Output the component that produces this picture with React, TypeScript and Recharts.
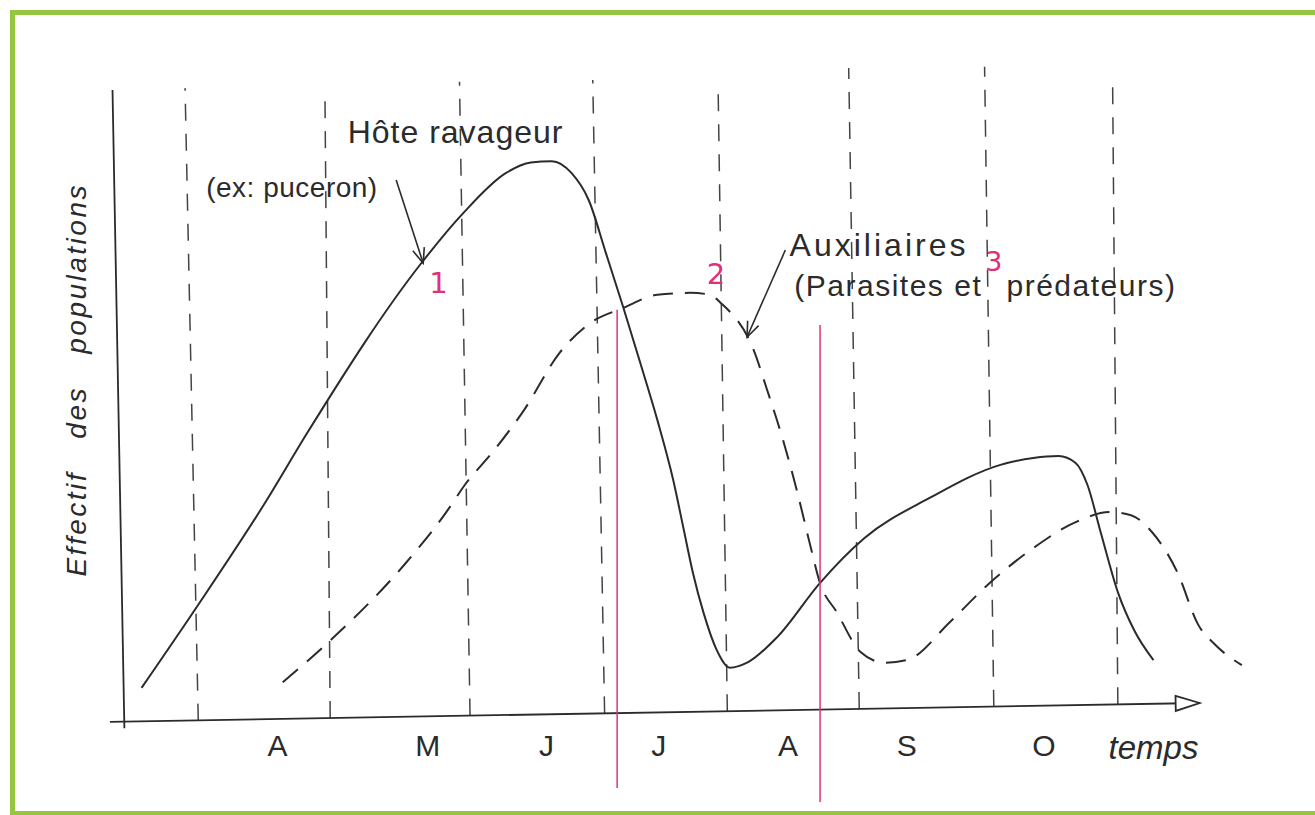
import React from 'react'
import { LineChart, Line, XAxis, YAxis, ReferenceLine, ReferenceDot } from 'recharts'

// temps en mois (1 = début avril), effectif en unités arbitraires (0-100)
const hoteTemps = [0.63, 1.06, 1.57, 1.89, 2.75, 3.07, 3.39, 3.58, 3.74, 3.89, 4.02, 4.15, 4.28, 4.41, 4.54, 4.66, 4.74, 4.81, 4.89, 4.99, 5.09, 5.22, 5.45, 5.77, 6.11, 6.6, 7.14, 7.39, 7.58, 7.71, 7.8, 7.9, 8.03, 8.16, 8.3]
const hoteEffectif = [5.1, 18.3, 34.6, 45.7, 72.5, 80.5, 86.8, 88.5, 88.7, 86.8, 82.5, 74.1, 65.6, 56.7, 47.6, 38.1, 30.2, 23.3, 17.0, 11.1, 8.3, 9.1, 13.2, 21.7, 28.9, 35.2, 40.5, 41.6, 41.9, 40.8, 37.3, 29.8, 20.3, 14.0, 9.5]

const auxTemps = [1.7, 2.08, 2.62, 2.94, 3.08, 3.29, 3.52, 3.8, 4.03, 4.28, 4.54, 4.79, 4.94, 5.02, 5.27, 5.37, 5.49, 5.6, 5.7, 5.77, 5.9, 6.08, 6.26, 6.43, 6.76, 7.04, 7.39, 7.71, 7.97, 8.13, 8.29, 8.48, 8.64, 8.77, 8.97]
const auxEffectif = [6.0, 13.0, 24.6, 33.0, 37.3, 42.5, 48.9, 58.3, 63.0, 65.4, 67.5, 67.8, 67.5, 66.2, 58.7, 52.5, 44.6, 36.2, 27.6, 21.9, 17.1, 10.8, 9.1, 9.5, 15.6, 21.4, 27.3, 31.4, 33.0, 32.5, 29.8, 23.5, 15.1, 11.9, 8.7]

const moisTicks = [1.66, 2.8, 3.7, 4.55, 5.53, 6.43, 7.47]
const moisLabels = ['A', 'M', 'J', 'J', 'A', 'S', 'O']

// limites de mois (traits verticaux dessinés à la main, un peu penchés)
const limitesHautX = [0.96, 2.02, 3.04, 4.05, 5.0, 5.99, 7.02, 7.99]
const limitesHautY = [100.3, 100, 101.3, 101.6, 100.8, 103.5, 103.7, 102.4]
const limitesBasX = [1.06, 2.06, 3.12, 4.14, 5.07, 6.07, 7.09, 8.03]
const limitesBasY = [-0.1, 0.3, 0.7, 1.05, 1.4, 1.75, 2.1, 2.5]

// traits roses (moments d'intervention) : x, haut, bas
const rosesX = [4.235, 5.773]
const rosesHaut = [65.1, 62.7]
const rosesBas = [-10.8, -13.0]

const hoteData = hoteTemps.map((x, i) => ({ x, y: hoteEffectif[i] }))
const auxData = auxTemps.map((x, i) => ({ x, y: auxEffectif[i] }))

const INK = '#2b2b2b'
const PINK = '#e0307a'
const FONT = '"Liberation Sans", Arial, sans-serif'

function texte(value: string, style: any = {}, rotate = 0) {
  return (props: any) => (
    <text
      x={props.cx}
      y={props.cy}
      textAnchor="middle"
      dominantBaseline="central"
      fontFamily={FONT}
      fill={INK}
      transform={rotate ? `rotate(${rotate} ${props.cx} ${props.cy})` : undefined}
      {...style}
    >
      {value}
    </text>
  )
}

function pointe(angle: number) {
  return (props: any) => (
    <path
      d="M -6 -15 L 0 0 L 6 -15"
      transform={`translate(${props.cx} ${props.cy}) rotate(${angle})`}
      stroke={INK}
      strokeWidth={1.6}
      fill="none"
    />
  )
}

const flecheAxe = (props: any) => (
  <path
    d="M -24 -7.5 L 0 0 L -24 7.5 Z"
    transform={`translate(${props.cx} ${props.cy}) rotate(-1)`}
    stroke={INK}
    strokeWidth={1.8}
    fill="#fff"
  />
)

const MoisTick = (props: any) => {
  const { x, y, payload } = props
  const i = moisTicks.indexOf(payload.value)
  return (
    <text x={x} y={y + 25} textAnchor="middle" dominantBaseline="central" fontSize={30} fontFamily={FONT} fill={INK}>
      {moisLabels[i]}
    </text>
  )
}

export default function App() {
  return (
    <div style={{ position: 'relative', width: 1315, height: 815, overflow: 'hidden', background: '#fff' }}>
      <style>{'body{margin:0;overflow:hidden}'}</style>
      <div
        style={{
          position: 'absolute',
          left: 10,
          top: 10,
          width: 1305,
          height: 806,
          boxSizing: 'border-box',
          borderTop: '5px solid #94c73d',
          borderLeft: '5px solid #94c73d',
          borderBottom: '5px solid #94c73d',
        }}
      />
      <div style={{ position: 'absolute', left: 0, top: 0 }}>
        <LineChart width={1315} height={815} margin={{ top: 90, right: 56, bottom: 55, left: 98 }}>
          <XAxis
            type="number"
            dataKey="x"
            domain={[0.3, 9.1]}
            allowDataOverflow
            ticks={moisTicks}
            tick={<MoisTick />}
            tickLine={false}
            axisLine={false}
            tickSize={0}
            tickMargin={0}
            height={40}
            interval={0}
          />
          <YAxis type="number" domain={[0, 100]} hide width={0} allowDataOverflow />

          {limitesBasX.map((x, i) => (
            <ReferenceLine
              key={'lim' + i}
              segment={[{ x, y: limitesBasY[i] }, { x: limitesHautX[i], y: limitesHautY[i] }]}
              stroke="#444"
              strokeWidth={1.5}
              strokeDasharray="17 13"
              ifOverflow="visible"
            />
          ))}

          {/* axes tracés à la main */}
          <ReferenceLine segment={[{ x: 0.5, y: -1.3 }, { x: 0.41, y: 100 }]} stroke={INK} strokeWidth={1.8} ifOverflow="visible" />
          <ReferenceLine segment={[{ x: 0.39, y: -0.3 }, { x: 8.65, y: 2.7 }]} stroke={INK} strokeWidth={1.8} ifOverflow="visible" />
          <ReferenceDot x={8.65} y={2.7} r={0} shape={flecheAxe} ifOverflow="visible" />

          <Line data={hoteData} dataKey="y" type="monotone" stroke={INK} strokeWidth={2} dot={false} isAnimationActive={false} />
          <Line data={auxData} dataKey="y" type="monotone" stroke={INK} strokeWidth={2} strokeDasharray="20 12" dot={false} isAnimationActive={false} />

          {rosesX.map((x, i) => (
            <ReferenceLine
              key={'rose' + i}
              segment={[{ x, y: rosesBas[i] }, { x, y: rosesHaut[i] }]}
              stroke={PINK}
              strokeWidth={1.5}
              ifOverflow="visible"
            />
          ))}

          {/* flèches d'annotation */}
          <ReferenceLine segment={[{ x: 2.56, y: 85.7 }, { x: 2.765, y: 72.5 }]} stroke={INK} strokeWidth={1.6} ifOverflow="visible" />
          <ReferenceDot x={2.765} y={72.5} r={0} shape={pointe(-18)} ifOverflow="visible" />
          <ReferenceLine segment={[{ x: 5.51, y: 74.6 }, { x: 5.22, y: 60.8 }]} stroke={INK} strokeWidth={1.6} ifOverflow="visible" />
          <ReferenceDot x={5.22} y={60.8} r={0} shape={pointe(23.6)} ifOverflow="visible" />

          <ReferenceDot x={0.136} y={54} r={0} ifOverflow="visible"
            shape={texte('Effectif des populations', { fontSize: 28, fontStyle: 'italic', letterSpacing: 2.5, wordSpacing: 22 }, -90)} />
          <ReferenceDot x={3.01} y={93.3} r={0} ifOverflow="visible" shape={texte('Hôte ravageur', { fontSize: 32, letterSpacing: 1 })} />
          <ReferenceDot x={1.77} y={84.6} r={0} ifOverflow="visible" shape={texte('(ex: puceron)', { fontSize: 28, letterSpacing: 0.5 })} />
          <ReferenceDot x={6.22} y={75.4} r={0} ifOverflow="visible" shape={texte('Auxiliaires', { fontSize: 32, letterSpacing: 3 })} />
          <ReferenceDot x={6.29} y={69.0} r={0} ifOverflow="visible" shape={texte('(Parasites et', { fontSize: 30, letterSpacing: 1.5 })} />
          <ReferenceDot x={7.83} y={69.0} r={0} ifOverflow="visible" shape={texte('prédateurs)', { fontSize: 30, letterSpacing: 1.5 })} />
          <ReferenceDot x={8.3} y={-4.4} r={0} ifOverflow="visible" shape={texte('temps', { fontSize: 33, fontStyle: 'italic' })} />

          <ReferenceDot x={2.88} y={69.4} r={0} ifOverflow="visible" shape={texte('1', { fontSize: 29, fill: PINK, fontFamily: '"DejaVu Sans", sans-serif' })} />
          <ReferenceDot x={4.985} y={70.8} r={0} ifOverflow="visible" shape={texte('2', { fontSize: 29, fill: PINK, fontFamily: '"DejaVu Sans", sans-serif' })} />
          <ReferenceDot x={7.09} y={72.8} r={0} ifOverflow="visible" shape={texte('3', { fontSize: 27, fill: PINK, fontFamily: '"DejaVu Sans", sans-serif' })} />
        </LineChart>
      </div>
    </div>
  )
}
